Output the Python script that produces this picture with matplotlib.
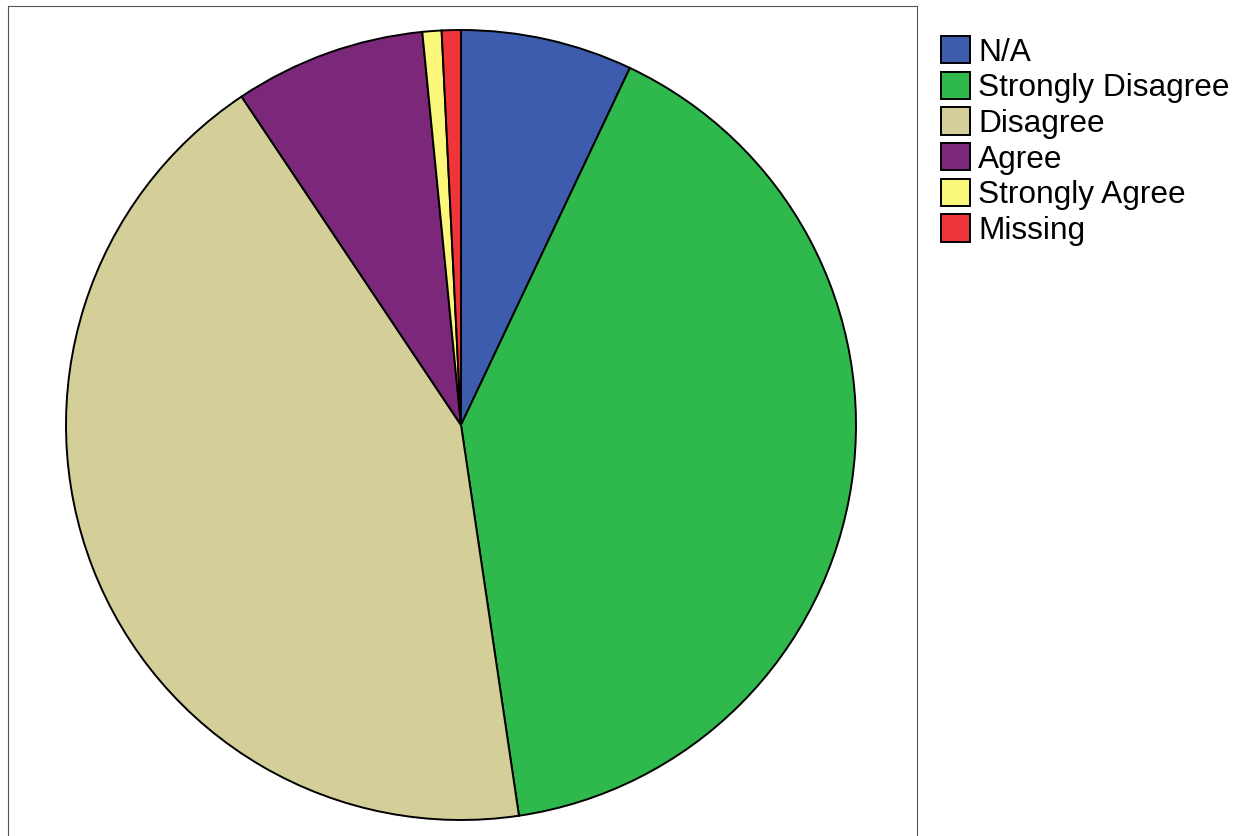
import matplotlib.pyplot as plt

plt.rcParams['font.family'] = ['Liberation Sans', 'DejaVu Sans']

# Ответы на вопрос (примерные количества)
categories = ['N/A', 'Strongly Disagree', 'Disagree', 'Agree', 'Strongly Agree', 'Missing']
counts = [9, 52, 55, 10, 1, 1]
colors = ['#3E5CAE', '#2FB84B', '#D4CE98', '#7B287B', '#FAF77A', '#F0353A']

fig = plt.figure(figsize=(12.47, 8.36), dpi=100)
# оси немного выходят за нижний край картинки, как в оригинале
ax = fig.add_axes([8 / 1247, -8 / 836, 909 / 1247, 838 / 836])

wedges, _ = ax.pie(counts, colors=colors, startangle=90, counterclock=False,
                   radius=1.0, wedgeprops={'edgecolor': 'black', 'linewidth': 1.4})

# масштаб: радиус 1 = ~395 пикселей
ax.set_aspect('auto')
ax.set_xlim(-453 / 395, 456 / 395)
ax.set_ylim(-419 / 395, 419 / 395)
ax.set_xticks([])
ax.set_yticks([])
ax.set_frame_on(True)
for s in ax.spines.values():
    s.set_visible(True)
    s.set_color('#555555')
    s.set_linewidth(0.8)

leg = fig.legend(wedges, categories, loc='upper left',
                 bbox_to_anchor=(941 / 1247, 1 - 36 / 836),
                 frameon=False, fontsize=22.8, handlelength=0.9, handleheight=0.95,
                 handletextpad=0.28, labelspacing=0.13, borderpad=0, borderaxespad=0)

plt.savefig('out.png', dpi=100)
